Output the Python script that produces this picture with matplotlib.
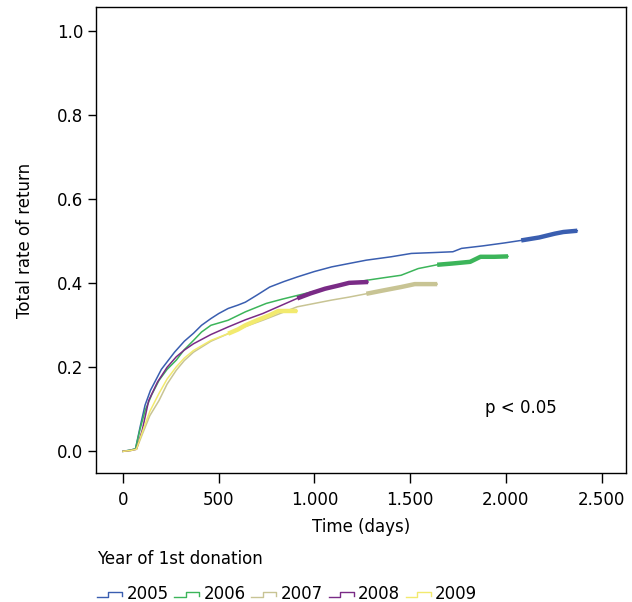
import matplotlib
matplotlib.use("Agg")
import matplotlib.pyplot as plt
from matplotlib.lines import Line2D
from matplotlib.legend_handler import HandlerLine2D

plt.rcParams['font.family'] = ['DejaVu Sans']
plt.rcParams['font.size'] = 12

# Kaplan-Meier style cumulative return curves
years = ['2005', '2006', '2007', '2008', '2009']
colors = ['#3a5eb0', '#3cb55a', '#c8c494', '#7a2b86', '#f2ea6e']

days_2005 = [0, 40, 65, 90, 115, 143, 200, 269, 320, 368, 410, 459, 500, 549, 600, 639, 700,
             766, 840, 910, 1000, 1090, 1180, 1271, 1400, 1506, 1620, 1723, 1768, 1880,
             1993, 2080, 2174, 2255, 2300, 2373]
rate_2005 = [0.0, 0.003, 0.006, 0.06, 0.11, 0.145, 0.195, 0.236, 0.262, 0.281, 0.300, 0.316,
             0.328, 0.340, 0.348, 0.355, 0.372, 0.391, 0.404, 0.415, 0.428, 0.439, 0.447,
             0.455, 0.463, 0.471, 0.473, 0.475, 0.483, 0.489, 0.496, 0.502, 0.509, 0.518,
             0.522, 0.525]

days_2006 = [0, 40, 65, 90, 116, 150, 188, 230, 278, 320, 368, 410, 459, 549, 639, 748, 830,
             910, 1000, 1090, 1180, 1271, 1360, 1452, 1542, 1641, 1720, 1813, 1867, 1940, 2011]
rate_2006 = [0.0, 0.003, 0.006, 0.055, 0.098, 0.135, 0.169, 0.195, 0.217, 0.242, 0.264, 0.284,
             0.300, 0.312, 0.332, 0.352, 0.362, 0.371, 0.381, 0.391, 0.399, 0.407, 0.413,
             0.419, 0.435, 0.444, 0.447, 0.451, 0.463, 0.463, 0.464]

days_2007 = [0, 40, 70, 100, 140, 188, 230, 278, 320, 368, 459, 549, 639, 730, 820, 910, 1000,
             1090, 1180, 1271, 1360, 1452, 1524, 1580, 1641]
rate_2007 = [0.0, 0.002, 0.005, 0.04, 0.085, 0.121, 0.160, 0.193, 0.216, 0.236, 0.262, 0.280,
             0.297, 0.312, 0.328, 0.344, 0.352, 0.360, 0.367, 0.375, 0.383, 0.391, 0.398,
             0.398, 0.398]

days_2008 = [0, 40, 70, 100, 134, 180, 230, 278, 320, 368, 459, 549, 639, 730, 820, 910, 980,
             1055, 1120, 1181, 1230, 1280]
rate_2008 = [0.0, 0.002, 0.005, 0.05, 0.121, 0.165, 0.200, 0.225, 0.241, 0.256, 0.278, 0.296,
             0.313, 0.328, 0.346, 0.364, 0.376, 0.387, 0.394, 0.401, 0.402, 0.403]

days_2009 = [0, 40, 70, 100, 140, 188, 230, 278, 320, 368, 459, 549, 600, 639, 700, 766, 811,
             860, 910]
rate_2009 = [0.0, 0.002, 0.005, 0.045, 0.095, 0.138, 0.172, 0.201, 0.222, 0.240, 0.264, 0.280,
             0.290, 0.300, 0.312, 0.324, 0.334, 0.334, 0.334]

# where the heavy censoring marks make the curve look thick
thick_from = [2010, 1641, 1271, 910, 549]

all_days = [days_2005, days_2006, days_2007, days_2008, days_2009]
all_rates = [rate_2005, rate_2006, rate_2007, rate_2008, rate_2009]


class StepHandler(HandlerLine2D):
    def create_artists(self, legend, orig_handle, xdescent, ydescent, width, height,
                       fontsize, trans):
        x0 = -xdescent
        y0 = -ydescent
        xs = [x0, x0 + width * 0.45, x0 + width * 0.45, x0 + width, x0 + width]
        ys = [y0 + height * 0.15, y0 + height * 0.15, y0 + height * 0.6,
              y0 + height * 0.6, y0 + height * 0.25]
        line = Line2D(xs, ys, color=orig_handle.get_color(), lw=1.0, transform=trans)
        return [line]


fig = plt.figure(figsize=(6.32, 6.02), dpi=100)
ax = fig.add_axes([0.152, 0.214, 0.839, 0.774])

handles = []
for d, r, c, y, t in zip(all_days, all_rates, colors, years, thick_from):
    h, = ax.plot(d, r, color=c, lw=1.1, label=y, zorder=3)
    handles.append(h)
    dd = [x for x in d if x >= t]
    rr = [v for x, v in zip(d, r) if x >= t]
    ax.plot(dd, rr, color=c, lw=3.2, solid_capstyle='butt', zorder=3)

ax.set_xlim(-141, 2629)
ax.set_ylim(-0.052, 1.057)
ax.set_xticks([0, 500, 1000, 1500, 2000, 2500])
ax.set_xticklabels(['0', '500', '1.000', '1.500', '2.000', '2.500'])
ax.set_yticks([0.0, 0.2, 0.4, 0.6, 0.8, 1.0])
ax.set_yticklabels(['0.0', '0.2', '0.4', '0.6', '0.8', '1.0'])
ax.tick_params(axis='y', direction='out', length=6, width=1, labelsize=12, pad=3)
ax.tick_params(axis='x', direction='out', length=7, width=1, labelsize=12, pad=6)
for s in ax.spines.values():
    s.set_linewidth(1)

ax.set_xlabel('Time (days)', fontsize=12, labelpad=6)
ax.set_ylabel('Total rate of return', fontsize=12, labelpad=17)

ax.text(1893, 0.102, 'p < 0.05', fontsize=12, va='center', ha='left')

leg = fig.legend(handles=handles, labels=years, loc='lower left',
                 bbox_to_anchor=(0.13, -0.026), ncol=5, frameon=False,
                 title='Year of 1st donation', title_fontsize=12, fontsize=12,
                 handlelength=1.5, handletextpad=0.25, columnspacing=0.35,
                 labelspacing=1.0, alignment='left', handler_map={Line2D: StepHandler()})

fig.savefig('out.png', dpi=100)
